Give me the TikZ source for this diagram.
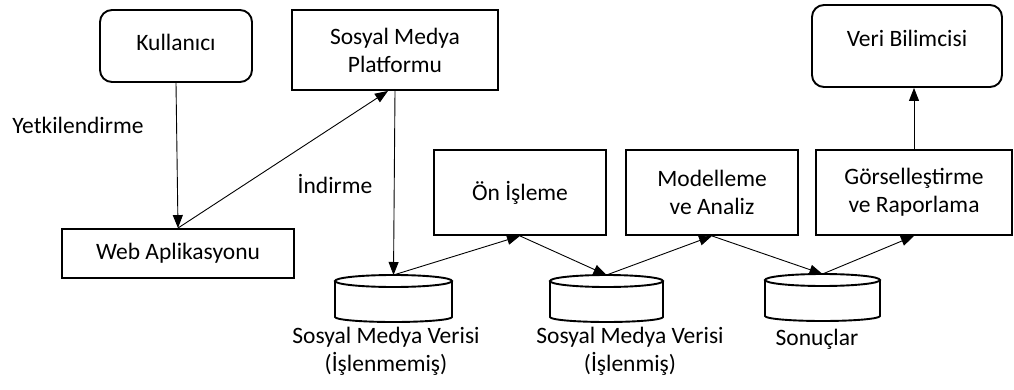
\documentclass[tikz,border=0pt]{standalone}
\usepackage{fontspec}
\setmainfont{Carlito}
\usetikzlibrary{shapes,arrows.meta,positioning,calc}

\begin{document}
\begin{tikzpicture}[x=1pt, y=-1pt,
  every node/.style={font=\fontsize{23.5}{28}\selectfont},
  stage/.style={draw, rectangle, line width=1.9pt, align=center, inner sep=0pt},
  actor/.style={stage, rounded corners=12pt},
  store/.style={rectangle, minimum height=47pt, inner sep=0pt, outer sep=0pt},
  storeline/.style={line width=1.9pt},
  flow/.style={-{Triangle[length=13pt,width=10pt]}, line width=0.9pt}
]
\useasboundingbox (0,0) rectangle (1014,390);

% actors and platform
\node[actor, minimum width=152pt, minimum height=72pt, text depth=8pt] (user) at (176,46) {Kullanıcı};
\node[stage, minimum width=206pt, minimum height=80pt] (platform) at (395,50) {Sosyal Medya\\Platformu};
\node[stage, minimum width=232pt, minimum height=49pt] (webapp) at (178,253.5) {Web Aplikasyonu};
\node[actor, minimum width=190pt, minimum height=82pt, text depth=16pt] (scientist) at (907,46) {Veri Bilimcisi};

% processing steps
\node[stage, minimum width=172pt, minimum height=85pt] (preproc) at (520,192.5) {Ön İşleme};
\node[stage, minimum width=172pt, minimum height=85pt] (model) at (712,192.5) {Modelleme\\ve Analiz};
\node[stage, minimum width=196pt, minimum height=85pt] (report) at (914,192.5) {Görselleştirme\\ve Raporlama};

% data stores
\node[store, minimum width=117pt] (raw) at (393.5,298.5) {};
\node[store, minimum width=113pt] (clean) at (606.5,298.5) {};
\node[store, minimum width=115pt] (results) at (822.5,297.5) {};
\foreach \s/\r in {raw/58.5, clean/56.5, results/57.5} {
  \draw[storeline] ([yshift=-6pt]\s.north west) -- ([yshift=5pt]\s.south west)
    arc[start angle=180, end angle=360, x radius=\r pt, y radius=5pt]
    -- ([yshift=-6pt]\s.north east);
  \draw[storeline] ([yshift=-6pt]\s.north) ellipse[x radius=\r pt, y radius=6pt];
}
\node[align=center] (rawlbl) at (386,351) {Sosyal Medya Verisi\\(İşlenmemiş)};
\node[align=center] (cleanlbl) at (630,351) {Sosyal Medya Verisi\\(İşlenmiş)};
\node (resultslbl) at (817,339) {Sonuçlar};

% edge texts
\node (auth) at (78,125) {Yetkilendirme};
\node (download) at (335,184) {İndirme};

\draw[flow] (user.south) -- (webapp.north);
\draw[flow] (webapp.north) -- ([xshift=-7pt]platform.south);
\draw[flow] (platform.south) -- (raw.north);
\draw[flow] (raw.north) -- (preproc.south);
\draw[flow] (preproc.south) -- (clean.north);
\draw[flow] (clean.north) -- (model.south);
\draw[flow] (model.south) -- (results.north);
\draw[flow] (results.north) -- (report.south);
\draw[flow] (report.north) -- (report.north |- scientist.south);
\end{tikzpicture}
\end{document}
